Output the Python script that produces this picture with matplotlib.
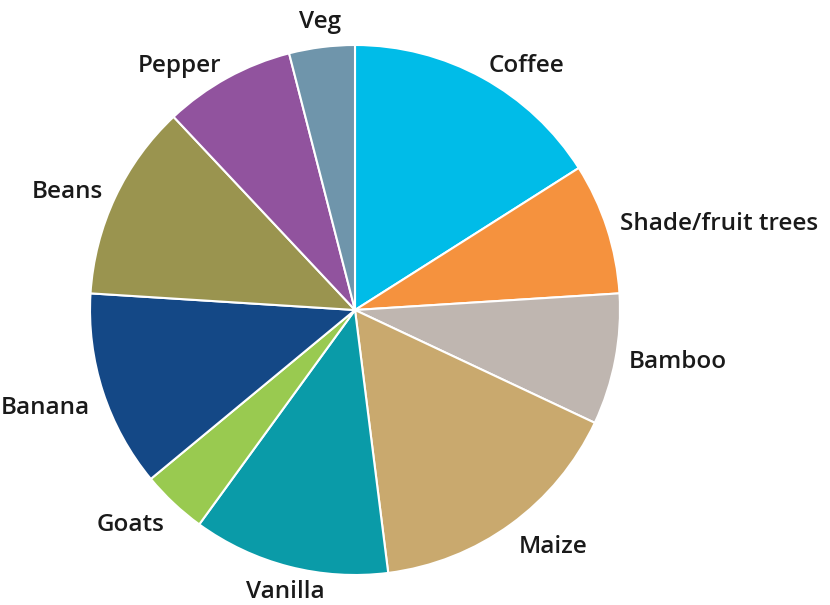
import numpy as np
import matplotlib.pyplot as plt

labels = ['Coffee', 'Shade/fruit trees', 'Bamboo', 'Maize', 'Vanilla',
          'Goats', 'Banana', 'Beans', 'Pepper', 'Veg']
shares = [16, 8, 8, 16, 12, 4, 12, 12, 8, 4]
colors = ['#00BCE8', '#F5923E', '#BFB6B0', '#C9A96E', '#0A9BA8',
          '#99CA50', '#144886', '#9A944F', '#91539E', '#6F95AB']

plt.rcParams['font.family'] = ['Open Sans', 'DejaVu Sans']

fig = plt.figure(figsize=(8.3, 6.05), dpi=100)
# square axes centred on the pie
ax = fig.add_axes([90 / 830, 30 / 605, 530 / 830, 530 / 605])

wedges, texts = ax.pie(shares, labels=labels, colors=colors, startangle=90,
                       counterclock=False, labeldistance=1.05,
                       wedgeprops=dict(edgecolor='white', linewidth=1.5),
                       textprops=dict(fontsize=17.5, color='#1a1a1a', fontweight='semibold'))

# labels close to vertical sit centred over/under their slice,
# lower-half labels hang below their anchor
for w, t in zip(wedges, texts):
    ang = np.deg2rad((w.theta1 + w.theta2) / 2)
    if abs(np.cos(ang)) < 0.3:
        t.set_horizontalalignment('center')
        t.set_verticalalignment('bottom' if np.sin(ang) > 0 else 'top')
    elif np.sin(ang) < -0.25:
        t.set_verticalalignment('top')

ax.set_xlim(-1, 1)
ax.set_ylim(-1, 1)
ax.set_aspect('equal')
ax.axis('off')

fig.savefig('out.png', dpi=100)
